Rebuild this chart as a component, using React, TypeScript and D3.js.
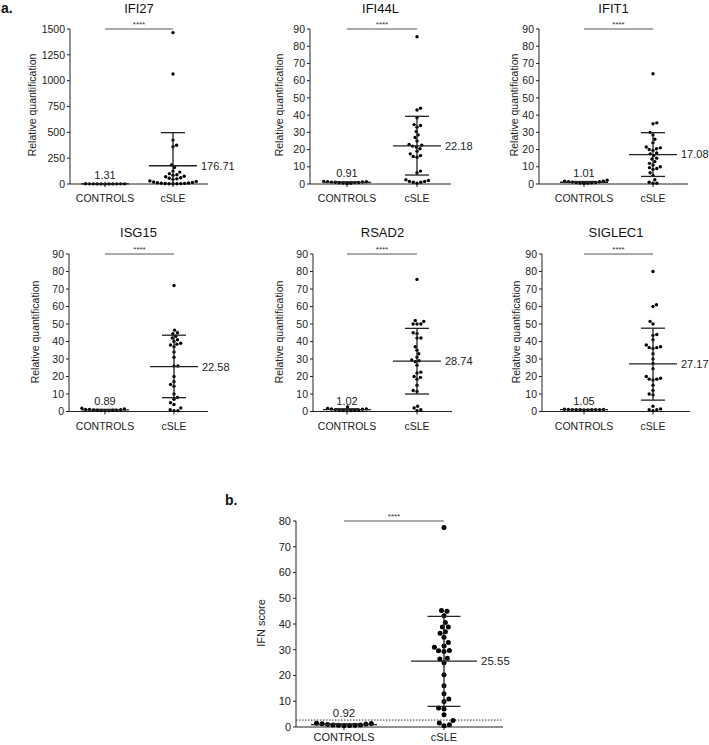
import React from "react";
import * as d3 from "d3";

// ---------- DATA ----------
const groups = ["CONTROLS", "cSLE"];
const geneNames = ["IFI27", "IFI44L", "IFIT1", "ISG15", "RSAD2", "SIGLEC1"];

const controlsIFI27 = [1.0, 0.8, 1.2, 1.5, 2.1, 0.9, 1.3, 1.1, 1.6, 1.4, 1.5];
const cSLEIFI27 = [1465, 1065, 425, 375, 360, 185, 160, 125, 115, 100, 90, 85, 75, 70, 60, 55, 50, 45, 30, 25, 20, 15, 12, 10, 8, 6, 5, 4, 3, 3, 2];

const controlsIFI44L = [1.4, 1.2, 0.9, 0.6, 0.5, 0.3, 0.7, 0.8, 1.0, 1.1, 1.3, 1.5];
const cSLEIFI44L = [85.5, 44, 43, 38.5, 34.5, 34, 33, 30.5, 28.5, 27, 25, 23, 22.5, 22, 21.5, 20.5, 19, 17.5, 16.5, 16, 15.5, 7.5, 6.5, 2.5, 2, 1.5, 1.5, 1, 1, 0.5];

const controlsIFIT1 = [1.6, 1.4, 0.8, 0.6, 0.4, 0.5, 0.7, 0.9, 1.1, 1.3, 1.6, 2.2];
const cSLEIFIT1 = [64, 35.5, 35, 30, 28.5, 26, 24, 21.5, 21, 20.5, 20, 19.5, 18, 17.5, 16.5, 15, 14.5, 13, 12, 11, 10, 9.5, 9, 8.5, 6.5, 5, 2.5, 1, 0.5, 0.5];

const controlsISG15 = [1.2, 0.9, 0.7, 0.5, 0.5, 0.6, 0.7, 0.8, 1.0, 1.2, 1.4, 1.9];
const cSLEISG15 = [72, 46.5, 45, 44.5, 43, 42, 41, 40, 39, 38.5, 38, 37, 34, 31, 26, 26, 20, 17, 15.5, 14.5, 10, 8, 7, 5, 4, 2, 1, 0.5, 0.5];

const controlsRSAD2 = [1.4, 1.3, 0.8, 0.6, 0.4, 0.6, 0.7, 0.9, 1.1, 1.5, 1.8, 2.6];
const cSLERSAD2 = [75.5, 51.5, 50, 50, 50, 52, 45, 44.5, 42, 42, 37, 35, 33, 31, 29.5, 29, 28.5, 26.5, 22.5, 22, 20, 19.5, 18.5, 15, 12, 11.5, 3, 2, 1, 0.5];

const controlsSIGLEC1 = [1.2, 1.1, 1.0, 0.9, 0.9, 1.0, 1.0, 1.1, 1.1, 1.2, 1.3];
const cSLESIGLEC1 = [80, 61, 60, 51.5, 50, 44, 43.5, 41, 38, 37, 36.5, 36.5, 36, 33, 30, 27.5, 24.5, 20, 19, 18.5, 18.5, 18, 15, 12, 10, 9.5, 3, 1.5, 1, 1, 0.5];

const controlMeanLabels = ["1.31", "0.91", "1.01", "0.89", "1.02", "1.05"];
const controlMeans = [1.31, 0.91, 1.01, 0.89, 1.02, 1.05];
const controlSD = [0.4, 0.4, 0.5, 0.4, 0.6, 0.15];
const cSLEMeanLabels = ["176.71", "22.18", "17.08", "22.58", "28.74", "27.17"];
const cSLEMeanLines = [176.71, 22.18, 17.08, 25.6, 28.74, 27.17];
const cSLEUpper = [497, 39.3, 29.8, 43.6, 47.5, 47.6];
const cSLELower = [-140, 5.2, 4.4, 7.9, 10, 6.5];
const yMaxes = [1500, 90, 90, 90, 90, 90];
const yTickSteps = [250, 10, 10, 10, 10, 10];

const controlsIFN = [1.5, 1.4, 0.8, 0.7, 0.6, 0.6, 0.7, 0.8, 1.0, 1.2, 1.3];
const cSLEIFN = [77.5, 45, 45.2, 43.2, 40.6, 38.8, 38.8, 37, 36.4, 34.9, 32.8, 31.5, 31, 29.7, 29.3, 29.6, 26.7, 26.4, 25, 20.3, 16, 12.9, 10.9, 9.9, 7.4, 7, 4.8, 2.5, 1.6, 0.9, 0.5];
const ifnControlMean = 0.92;
const ifnControlMeanLabel = "0.92";
const ifnControlSD = 0.3;
const ifnCSLEMean = 25.55;
const ifnCSLEMeanLabel = "25.55";
const ifnUpper = 43;
const ifnLower = 8;
const ifnCutoff = 2.7;
const ifnYMax = 80;

const controlsAll = [controlsIFI27, controlsIFI44L, controlsIFIT1, controlsISG15, controlsRSAD2, controlsSIGLEC1];
const cSLEAll = [cSLEIFI27, cSLEIFI44L, cSLEIFIT1, cSLEISG15, cSLERSAD2, cSLESIGLEC1];

// ---------- LAYOUT ----------
const FONT = "'Liberation Sans', Arial, Helvetica, sans-serif";
type Layout = { axisX: number; endX: number; cx: number[]; y0: number; yTop: number; titleY: number; labelX: number; labelY: number; xLabelDy: number; ctlLabelDy: number };
const layouts: Layout[] = [
  { axisX: 70, endX: 208, cx: [105, 173], y0: 184, yTop: 29, titleY: 13, labelX: 36, labelY: 105, xLabelDy: 18, ctlLabelDy: 5 },
  { axisX: 310, endX: 451, cx: [347, 417], y0: 184, yTop: 29, titleY: 13, labelX: 283, labelY: 105, xLabelDy: 18, ctlLabelDy: 5 },
  { axisX: 539, endX: 688, cx: [584, 653], y0: 184, yTop: 29, titleY: 13, labelX: 518, labelY: 105, xLabelDy: 18, ctlLabelDy: 5 },
  { axisX: 69, endX: 208, cx: [105, 174], y0: 411.5, yTop: 254, titleY: 237, labelX: 39, labelY: 332, xLabelDy: 18, ctlLabelDy: 5 },
  { axisX: 313, endX: 452, cx: [347, 417], y0: 411.5, yTop: 254, titleY: 237, labelX: 283, labelY: 332, xLabelDy: 18, ctlLabelDy: 5 },
  { axisX: 542, endX: 690, cx: [584, 653], y0: 411.5, yTop: 254, titleY: 237, labelX: 520, labelY: 332, xLabelDy: 18, ctlLabelDy: 5 },
];
const layoutB: Layout = { axisX: 296, endX: 503, cx: [344, 444], y0: 727, yTop: 521, titleY: 0, labelX: 265, labelY: 623, xLabelDy: 14, ctlLabelDy: 8 };

type Pt = { x: number; y: number };

function swarm(vals: number[], y: (v: number) => number, cx: number, r: number, gap: number): Pt[] {
  const D = 2 * r + gap;
  const sorted = [...vals].sort((a, b) => a - b);
  const placed: Pt[] = [];
  let flip = 1;
  for (const v of sorted) {
    const py = y(v);
    const intervals: [number, number][] = [];
    for (const p of placed) {
      const dy = Math.abs(p.y - py);
      if (dy < D) {
        const w = Math.sqrt(D * D - dy * dy);
        intervals.push([p.x - w, p.x + w]);
      }
    }
    const cands = [cx];
    intervals.forEach(([a, b]) => { cands.push(a, b); });
    const ok = (x: number) => intervals.every(([a, b]) => x <= a + 1e-6 || x >= b - 1e-6);
    let best = cx;
    let bestD = Infinity;
    for (const c of cands) {
      if (!ok(c)) continue;
      const dd = Math.abs(c - cx);
      const tieBreak = (c - cx) * flip > 0 ? -1e-3 : 0;
      if (dd + tieBreak < bestD) { bestD = dd + tieBreak; best = c; }
    }
    if (Math.abs(best - cx) > 0.01) flip = -flip;
    placed.push({ x: best, y: py });
  }
  return placed;
}

type PanelProps = {
  title?: string;
  yLabel: string;
  controls: number[];
  cases: number[];
  ctlMean: number;
  ctlLabel: string;
  ctlSD: number;
  caseMean: number;
  caseLabel: string;
  upper: number;
  lower: number;
  yMax: number;
  step: number;
  L: Layout;
  r: number;
  fs: number;
  meanHalf: number;
  capHalf: number;
  cutoff?: number;
};

function Panel(p: PanelProps) {
  const { L } = p;
  const y = d3.scaleLinear().domain([0, p.yMax]).range([L.y0, L.yTop]);
  const x = d3.scalePoint<string>().domain(groups).range([L.cx[0], L.cx[1]]);
  const ticks = d3.range(0, p.yMax + 1e-9, p.step);
  const cx0 = x(groups[0]) as number;
  const cx1 = x(groups[1]) as number;
  const ctlPts = swarm(p.controls, y, cx0, p.r, 0.5);
  const casePts = swarm(p.cases, y, cx1, p.r, 0.5);
  const lineColor = "#222";
  const lowY = y(Math.max(p.lower, 0));
  const sigY = y(p.yMax);
  return (
    <g>
      {p.title && (
        <text x={(L.axisX + L.endX) / 2} y={L.titleY} textAnchor="middle" fontSize={13} fontFamily={FONT} fill="#111">
          {p.title}
        </text>
      )}
      <line x1={L.axisX} x2={L.axisX} y1={L.y0} y2={L.yTop} stroke="#222" strokeWidth={1} />
      {ticks.map((t) => (
        <g key={t}>
          <line x1={L.axisX - 3} x2={L.axisX} y1={y(t)} y2={y(t)} stroke="#222" strokeWidth={1} />
          <text x={L.axisX - 5} y={y(t)} dy="0.35em" textAnchor="end" fontSize={p.fs} fontFamily={FONT} fill="#222">
            {t}
          </text>
        </g>
      ))}
      <text
        transform={`translate(${L.labelX},${L.labelY}) rotate(-90)`}
        textAnchor="middle"
        fontSize={p.fs}
        fontFamily={FONT}
        fill="#222"
      >
        {p.yLabel}
      </text>
      <line x1={L.axisX} x2={L.endX} y1={L.y0} y2={L.y0} stroke="#222" strokeWidth={1} />
      {groups.map((g) => (
        <g key={g}>
          <line x1={x(g) as number} x2={x(g) as number} y1={L.y0} y2={L.y0 + 3} stroke="#222" strokeWidth={1} />
          <text x={x(g) as number} y={L.y0 + L.xLabelDy} textAnchor="middle" fontSize={p.fs} fontFamily={FONT} fill="#222">
            {g}
          </text>
        </g>
      ))}
      {p.cutoff !== undefined && (
        <line x1={L.axisX} x2={L.endX} y1={y(p.cutoff)} y2={y(p.cutoff)} stroke="#333" strokeWidth={1} strokeDasharray="1.5,1.5" />
      )}
      <line x1={cx0} x2={cx1} y1={sigY} y2={sigY} stroke="#555" strokeWidth={1} />
      <text x={(cx0 + cx1) / 2} y={sigY - 2} textAnchor="middle" fontSize={8} fontFamily={FONT} fill="#333">
        ****
      </text>
      {ctlPts.map((d, i) => (
        <circle key={"c" + i} cx={d.x} cy={d.y} r={p.r} fill="#000" />
      ))}
      {casePts.map((d, i) => (
        <circle key={"s" + i} cx={d.x} cy={d.y} r={p.r} fill="#000" />
      ))}
      <line x1={cx0 - p.meanHalf} x2={cx0 + p.meanHalf} y1={y(p.ctlMean)} y2={y(p.ctlMean)} stroke={lineColor} strokeWidth={1.3} />
      <line x1={cx0} x2={cx0} y1={y(Math.max(p.ctlMean - p.ctlSD, 0))} y2={y(p.ctlMean + p.ctlSD)} stroke={lineColor} strokeWidth={1.2} />
      <line x1={cx0 - p.capHalf} x2={cx0 + p.capHalf} y1={y(p.ctlMean + p.ctlSD)} y2={y(p.ctlMean + p.ctlSD)} stroke={lineColor} strokeWidth={1.1} />
      <text x={cx0} y={y(p.ctlMean) - L.ctlLabelDy} textAnchor="middle" fontSize={p.fs + 0.5} fontFamily={FONT} fill="#222">
        {p.ctlLabel}
      </text>
      <line x1={cx1} x2={cx1} y1={lowY} y2={y(p.upper)} stroke={lineColor} strokeWidth={1.3} />
      <line x1={cx1 - p.capHalf} x2={cx1 + p.capHalf} y1={y(p.upper)} y2={y(p.upper)} stroke={lineColor} strokeWidth={1.3} />
      {p.lower > 0 && (
        <line x1={cx1 - p.capHalf} x2={cx1 + p.capHalf} y1={y(p.lower)} y2={y(p.lower)} stroke={lineColor} strokeWidth={1.3} />
      )}
      <line x1={cx1 - p.meanHalf} x2={cx1 + p.meanHalf} y1={y(p.caseMean)} y2={y(p.caseMean)} stroke={lineColor} strokeWidth={1.3} />
      <text x={cx1 + p.meanHalf + 4} y={y(p.caseMean)} dy="0.35em" fontSize={p.fs + 0.5} fontFamily={FONT} fill="#222">
        {p.caseLabel}
      </text>
    </g>
  );
}

export default function App() {
  return (
    <svg
      width={709}
      height={745}
      viewBox="0 0 709 745"
      style={{ position: "absolute", left: 0, top: 0, background: "#fff" }}
    >
      <rect x={0} y={0} width={709} height={745} fill="#fff" />
      <text x={1} y={13} fontSize={14} fontWeight="bold" fontFamily={FONT} fill="#111">
        a.
      </text>
      {geneNames.map((g, i) => (
        <Panel
          key={g}
          title={g}
          yLabel="Relative quantification"
          controls={controlsAll[i]}
          cases={cSLEAll[i]}
          ctlMean={controlMeans[i]}
          ctlLabel={controlMeanLabels[i]}
          ctlSD={controlSD[i]}
          caseMean={cSLEMeanLines[i]}
          caseLabel={cSLEMeanLabels[i]}
          upper={cSLEUpper[i]}
          lower={cSLELower[i]}
          yMax={yMaxes[i]}
          step={yTickSteps[i]}
          L={layouts[i]}
          r={1.7}
          fs={10.5}
          meanHalf={24}
          capHalf={12}
        />
      ))}
      <text x={225} y={505} fontSize={14} fontWeight="bold" fontFamily={FONT} fill="#111">
        b.
      </text>
      <Panel
        yLabel="IFN score"
        controls={controlsIFN}
        cases={cSLEIFN}
        ctlMean={ifnControlMean}
        ctlLabel={ifnControlMeanLabel}
        ctlSD={ifnControlSD}
        caseMean={ifnCSLEMean}
        caseLabel={ifnCSLEMeanLabel}
        upper={ifnUpper}
        lower={ifnLower}
        yMax={ifnYMax}
        step={10}
        L={layoutB}
        r={2.5}
        fs={11}
        meanHalf={33}
        capHalf={16.5}
        cutoff={ifnCutoff}
      />
    </svg>
  );
}
